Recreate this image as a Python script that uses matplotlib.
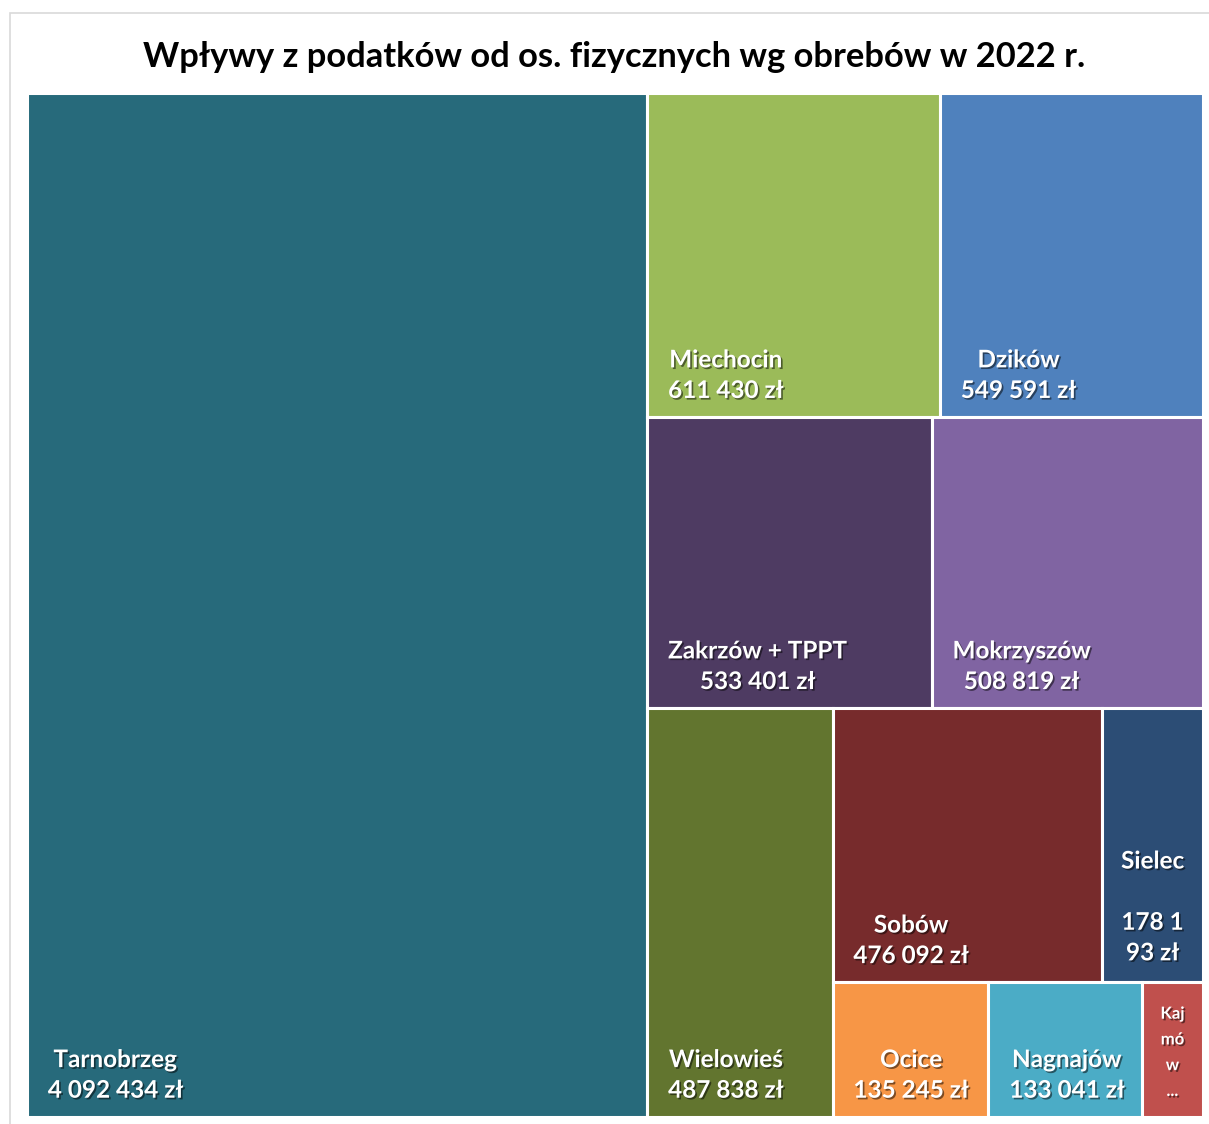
import matplotlib
matplotlib.use("Agg")
import matplotlib.pyplot as plt
import matplotlib.patheffects as pe
from matplotlib.patches import Rectangle

# data
names = ["Tarnobrzeg", "Miechocin", "Dzików", "Zakrzów + TPPT", "Mokrzyszów",
         "Wielowieś", "Sobów", "Sielec", "Ocice", "Nagnajów", "Kajmów"]
values = [4092434, 611430, 549591, 533401, 508819,
          487838, 476092, 178193, 135245, 133041, 53000]
# how Excel grouped the tiles into strips
strips = [1, 2, 2, 1, 2, 3]
colors = ["#276A7B", "#9BBB59", "#4F81BD", "#4E3B62", "#8064A2",
          "#62752F", "#772B2C", "#2C4D75", "#F79646", "#4BACC6", "#C0504D"]
# labels Excel wrapped / truncated in narrow tiles
wrapped = {"Sielec": "Sielec\n\n178 1\n93 zł", "Kajmów": "Kaj\nmó\nw\n..."}

TITLE = "Wpływy z podatków od os. fizycznych wg obrebów w 2022 r."
FONT = "Lato"


def money(v):
    return f"{v:,} zł".replace(",", " ")


def strip_layout(vals, strips, x, y, w, h):
    """Strip treemap: each strip is laid across the shorter side of what is left."""
    rects = []
    i = 0
    for k, n in enumerate(strips):
        grp = vals[i:i + n]
        s, rest = sum(grp), sum(vals[i:])
        last = k == len(strips) - 1
        column = (w >= h) != last
        if column:
            cw = w * s / rest
            yy = y + h
            for v in grp:
                hh = h * v / s
                rects.append((x, yy - hh, cw, hh))
                yy -= hh
            x += cw
            w -= cw
        else:
            rh = h * s / rest
            xx = x
            for v in grp:
                ww = w * v / s
                rects.append((xx, y + h - rh, ww, rh))
                xx += ww
            h -= rh
        i += n
    return rects


fig = plt.figure(figsize=(12.09, 11.24), dpi=100)
fig.patch.set_facecolor("white")

# chart frame (partially cut off at right/bottom in the reference)
fig.add_artist(Rectangle((10 / 1209, -0.05), 1.2, 1.05 - 13 / 1124,
                         transform=fig.transFigure, fill=False,
                         edgecolor="#D9D9D9", lw=1.2))

ax = fig.add_axes([27 / 1209, 7 / 1124, 1176 / 1209, 1024 / 1124])
bb = ax.get_window_extent()
W, H = bb.width, bb.height
ax.set_xlim(0, W)
ax.set_ylim(0, H)
ax.axis("off")

shadow = [pe.withSimplePatchShadow(offset=(1.2, -1.2), shadow_rgbFace="black", alpha=0.5)]

for name, val, col, (x0, y0, w, h) in zip(names, values, colors,
                                           strip_layout(values, strips, 0, 0, W, H)):
    ax.add_patch(Rectangle((x0, y0), w, h, facecolor=col, edgecolor="white",
                           lw=2.2, clip_on=False))
    label = wrapped.get(name, f"{name}\n{money(val)}")
    if name in wrapped:
        small = w < 70
        ax.annotate(label, xy=(x0 + w / 2, y0), xytext=(0, 13), textcoords="offset points",
                    ha="center", va="bottom", multialignment="center",
                    color="white", fontweight="bold", family=FONT,
                    fontsize=12 if small else 17.5, linespacing=1.75 if small else 1.4,
                    path_effects=shadow)
    else:
        ax.annotate(label, xy=(x0, y0), xytext=(15, 11), textcoords="offset points",
                    ha="left", va="bottom", multialignment="center",
                    color="white", fontweight="bold", family=FONT,
                    fontsize=17.5, linespacing=1.4, path_effects=shadow)

fig.text(614 / 1209, 1 - 57 / 1124, TITLE, ha="center", va="center",
         fontsize=24.8, fontweight="bold", family=FONT, color="black")

fig.savefig("out.png", dpi=100, facecolor="white")
